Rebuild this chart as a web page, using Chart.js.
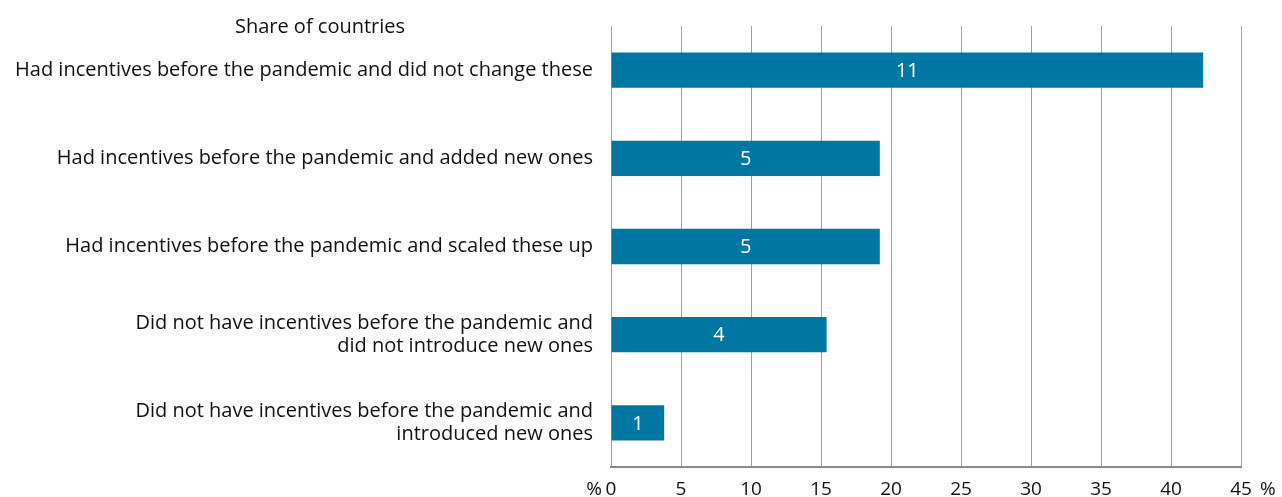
<!DOCTYPE html>
<html>
<head>
<meta charset="utf-8">
<script src="https://cdn.jsdelivr.net/npm/chart.js@4"></script>
<style>
  html, body { margin: 0; padding: 0; background: #fff; }
  #wrap { width: 1282px; height: 497px; }
</style>
</head>
<body>
<div id="wrap"><canvas id="shareChart"></canvas></div>
<script>
const categories = [
  'Had incentives before the pandemic and did not change these',
  'Had incentives before the pandemic and added new ones',
  'Had incentives before the pandemic and scaled these up',
  ['Did not have incentives before the pandemic and', 'did not introduce new ones'],
  ['Did not have incentives before the pandemic and', 'introduced new ones']
];
const shares = [42.3, 19.2, 19.2, 15.4, 3.8];
const counts = [11, 5, 5, 4, 1];
const xTicks = [0, 5, 10, 15, 20, 25, 30, 35, 40, 45];

const FONT = '"Open Sans", sans-serif';
const barColor = '#0077a3';

// title, % signs and the counts inside the bars
const extras = {
  id: 'extras',
  afterDraw(chart) {
    const ctx = chart.ctx;
    const x = chart.scales.x;
    ctx.save();
    ctx.fillStyle = '#111';
    ctx.font = '500 20px ' + FONT;
    ctx.textAlign = 'center';
    ctx.textBaseline = 'middle';
    ctx.fillText('Share of countries', 320, 27);

    ctx.font = '19px ' + FONT;
    ctx.textBaseline = 'middle';
    ctx.textAlign = 'right';
    ctx.fillText('%', x.getPixelForValue(0) - 9, 490);
    ctx.textAlign = 'left';
    ctx.fillText('%', x.getPixelForValue(45) + 19, 490);

    const meta = chart.getDatasetMeta(0);
    ctx.fillStyle = '#fff';
    ctx.font = '20px ' + FONT;
    ctx.textAlign = 'center';
    meta.data.forEach((bar, i) => {
      const mid = (bar.base + bar.x) / 2;
      ctx.fillText(String(counts[i]), mid, bar.y + 1);
    });
    ctx.restore();
  }
};

new Chart(document.getElementById('shareChart'), {
  type: 'bar',
  data: {
    labels: categories,
    datasets: [{
      data: shares,
      backgroundColor: barColor,
      borderWidth: 0,
      barPercentage: 0.4,
      categoryPercentage: 1
    }]
  },
  options: {
    indexAxis: 'y',
    responsive: true,
    maintainAspectRatio: false,
    animation: false,
    layout: { padding: { top: 26, right: 41, left: 0, bottom: 0 } },
    plugins: {
      legend: { display: false },
      tooltip: { enabled: false }
    },
    scales: {
      x: {
        min: 0,
        max: 45,
        afterBuildTicks(axis) { axis.ticks = xTicks.map(v => ({ value: v })); },
        afterFit(axis) { axis.height = 30; },
        grid: {
          color: '#a0a0a0',
          lineWidth: 1,
          drawTicks: false
        },
        border: { display: true, color: '#8a8a8a', width: 2 },
        ticks: {
          color: '#111',
          font: { family: FONT, size: 19 },
          padding: 11
        }
      },
      y: {
        afterFit(axis) {
          axis.width = 611;
          axis.paddingTop = 0;
          axis.paddingBottom = 0;
        },
        grid: { display: false },
        border: { display: false },
        ticks: {
          color: '#111',
          font: { family: FONT, size: 20, lineHeight: 1.15 },
          padding: 10
        }
      }
    }
  },
  plugins: [extras]
});
</script>
</body>
</html>
